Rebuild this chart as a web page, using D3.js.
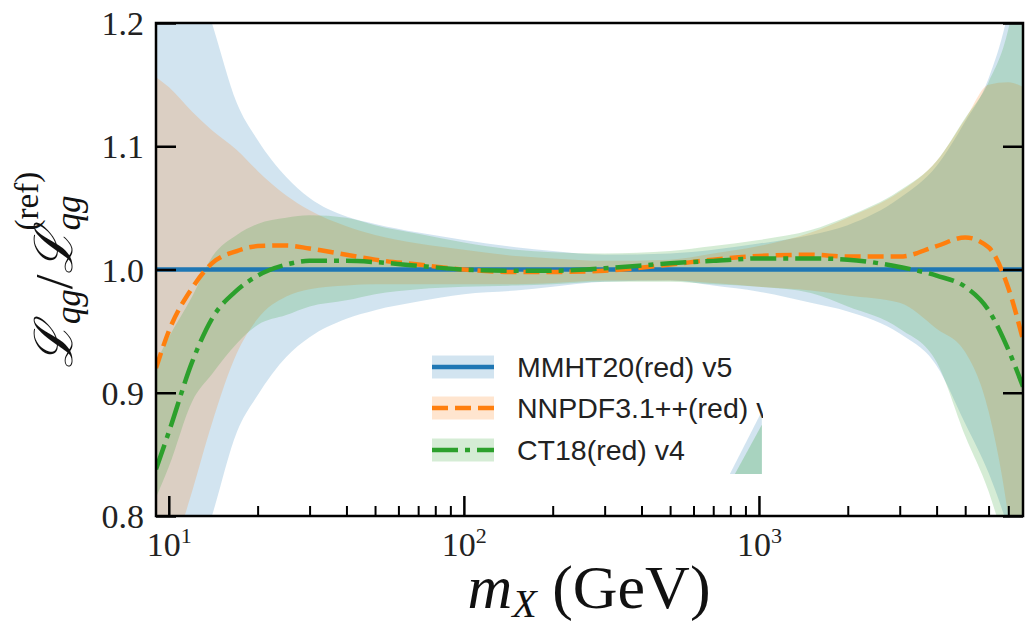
<!DOCTYPE html>
<html>
<head>
<meta charset="utf-8">
<script src="https://cdn.jsdelivr.net/npm/d3@7"></script>
<style>
  body { margin: 0; background: #fff; }
  svg { display: block; }
</style>
</head>
<body>
<div id="chart"></div>
<script>
// m_X grid (GeV) and the three luminosity ratios
const mx = [9.05, 10, 12, 14, 17, 20, 25, 30, 40, 50, 70, 100, 150, 200, 300, 500, 700, 1000, 1500, 2000, 3000, 4000, 5000, 6000, 7000, 7850];

const mmhtCentral = [1, 1, 1, 1, 1, 1, 1, 1, 1, 1, 1, 1, 1, 1, 1, 1, 1, 1, 1, 1, 1, 1, 1, 1, 1, 1];
const mmhtLow  = [0.60, 0.68, 0.75, 0.80, 0.868, 0.898, 0.929, 0.945, 0.960, 0.967, 0.974, 0.980, 0.983, 0.986, 0.990, 0.991, 0.987, 0.982, 0.973, 0.966, 0.948, 0.922, 0.875, 0.835, 0.79, 0.75];
const mmhtHigh = [1.40, 1.33, 1.25, 1.20, 1.135, 1.105, 1.075, 1.058, 1.043, 1.037, 1.030, 1.024, 1.018, 1.015, 1.012, 1.013, 1.016, 1.021, 1.028, 1.036, 1.058, 1.084, 1.12, 1.155, 1.21, 1.28];

const nnpdfCentral = [0.920, 0.950, 0.985, 1.005, 1.015, 1.019, 1.0195, 1.017, 1.012, 1.008, 1.004, 1.000, 0.998, 0.998, 0.999, 1.004, 1.008, 1.011, 1.012, 1.0105, 1.0105, 1.019, 1.026, 1.018, 0.985, 0.943];
const nnpdfLow  = [0.73, 0.76, 0.82, 0.875, 0.932, 0.96, 0.978, 0.984, 0.987, 0.988, 0.988, 0.988, 0.988, 0.989, 0.991, 0.991, 0.989, 0.986, 0.983, 0.979, 0.973, 0.952, 0.933, 0.885, 0.80, 0.70];
const nnpdfHigh = [1.156, 1.148, 1.128, 1.113, 1.097, 1.080, 1.060, 1.048, 1.035, 1.028, 1.021, 1.016, 1.011, 1.009, 1.007, 1.008, 1.013, 1.019, 1.030, 1.042, 1.063, 1.088, 1.122, 1.150, 1.152, 1.148];

const ct18Central = [0.838, 0.868, 0.925, 0.960, 0.983, 0.995, 1.004, 1.007, 1.007, 1.006, 1.003, 1.000, 0.999, 0.999, 1.001, 1.005, 1.007, 1.009, 1.009, 1.008, 1.002, 0.995, 0.986, 0.967, 0.935, 0.905];
const ct18Low  = [0.815, 0.84, 0.893, 0.915, 0.94, 0.955, 0.963, 0.970, 0.975, 0.980, 0.984, 0.986, 0.987, 0.988, 0.990, 0.990, 0.988, 0.986, 0.981, 0.970, 0.952, 0.925, 0.865, 0.82, 0.765, 0.71];
const ct18High = [0.925, 0.945, 0.978, 1.010, 1.028, 1.037, 1.042, 1.044, 1.042, 1.036, 1.029, 1.022, 1.016, 1.014, 1.013, 1.015, 1.019, 1.024, 1.032, 1.043, 1.064, 1.088, 1.123, 1.152, 1.195, 1.26];

const setNames = ["MMHT20(red) v5", "NNPDF3.1++(red) v4", "CT18(red) v4"];

// axis ticks
const yTicks = [0.8, 0.9, 1.0, 1.1, 1.2];
const xMajor = [10, 100, 1000];
const xMajorExp = ["1", "2", "3"];
const xMinor = [20, 30, 40, 50, 60, 70, 80, 90, 200, 300, 400, 500, 600, 700, 800, 900, 2000, 3000, 4000, 5000, 6000, 7000];

// stray band fragment that overlaps the legend in the source image (data coords)
const strayBlue = [[797, 0.834], [1023, 0.834], [1023, 0.885]];
const strayGreen = [[829, 0.834], [1023, 0.834], [1023, 0.874]];

const W = 1026, H = 626;
const margin = {top: 23, right: 3, bottom: 110, left: 156};
const width = W - margin.left - margin.right;
const height = H - margin.top - margin.bottom;

const serif = "'Liberation Serif', 'DejaVu Serif', serif";
const sans = "'Liberation Sans', Arial, sans-serif";
const colors = ["#1f77b4", "#ff7f0e", "#2ca02c"];
const dashes = [null, "16,7", "26,7,5,7"];
const lw = 4.5;

const svg = d3.select("#chart").append("svg")
    .attr("width", W)
    .attr("height", H);

const g = svg.append("g")
    .attr("transform", `translate(${margin.left}, ${margin.top})`);

const x = d3.scaleLog().domain([9.05, 7850]).range([0, width]);
const y = d3.scaleLinear().domain([0.8, 1.2]).range([height, 0]);

g.append("clipPath").attr("id", "plotclip")
  .append("rect").attr("width", width).attr("height", height);

const plot = g.append("g").attr("clip-path", "url(#plotclip)");

const sets = [
  {c: mmhtCentral, lo: mmhtLow, hi: mmhtHigh},
  {c: nnpdfCentral, lo: nnpdfLow, hi: nnpdfHigh},
  {c: ct18Central, lo: ct18Low, hi: ct18High}
];

const area = d3.area()
    .x(d => x(d.m))
    .y0(d => y(d.lo))
    .y1(d => y(d.hi))
    .curve(d3.curveMonotoneX);

const line = d3.line()
    .x(d => x(d.m))
    .y(d => y(d.v))
    .curve(d3.curveMonotoneX);

// bands first
sets.forEach((s, i) => {
  const pts = mx.map((m, k) => ({m: m, lo: s.lo[k], hi: s.hi[k]}));
  plot.append("path")
    .datum(pts)
    .attr("fill", colors[i])
    .attr("fill-opacity", 0.2)
    .attr("d", area);
});

// central lines on top
sets.forEach((s, i) => {
  const pts = mx.map((m, k) => ({m: m, v: s.c[k]}));
  plot.append("path")
    .datum(pts)
    .attr("fill", "none")
    .attr("stroke", colors[i])
    .attr("stroke-width", lw)
    .attr("stroke-dasharray", dashes[i])
    .attr("d", line);
});

// axes, ticks pointing inwards
const yAxis = g.append("g")
    .call(d3.axisLeft(y).tickValues(yTicks).tickSize(-20).tickPadding(12).tickFormat(d3.format(".1f")));
yAxis.select(".domain").remove();
yAxis.selectAll("line").attr("stroke-width", 2.5);
yAxis.selectAll("text")
    .attr("font-family", serif)
    .attr("font-size", 34)
    .attr("fill", "#222")
    .attr("dy", "0.34em");

const yAxisR = g.append("g")
    .attr("transform", `translate(${width}, 0)`)
    .call(d3.axisRight(y).tickValues(yTicks).tickSize(-20).tickFormat(""));
yAxisR.select(".domain").remove();
yAxisR.selectAll("line").attr("stroke-width", 2.5);

const xMinAxis = g.append("g")
    .attr("transform", `translate(0, ${height})`)
    .call(d3.axisBottom(x).tickValues(xMinor).tickSize(-10).tickFormat(""));
xMinAxis.select(".domain").remove();
xMinAxis.selectAll("line").attr("stroke-width", 2);

const xAxis = g.append("g")
    .attr("transform", `translate(0, ${height})`)
    .call(d3.axisBottom(x).tickValues(xMajor).tickSize(-20).tickPadding(16).tickFormat(""));
xAxis.select(".domain").remove();
xAxis.selectAll("line").attr("stroke-width", 2.5);
xAxis.selectAll(".tick text")
    .attr("font-family", serif)
    .attr("font-size", 34)
    .attr("fill", "#222")
    .each(function(d, i) {
      const t = d3.select(this);
      t.append("tspan").text("10");
      t.append("tspan").attr("font-size", 22).attr("dy", "-0.6em").text(xMajorExp[i]);
    });

// frame
g.append("rect")
    .attr("width", width)
    .attr("height", height)
    .attr("fill", "none")
    .attr("stroke", "#000")
    .attr("stroke-width", 2.5);

// legend
const leg = g.append("g").attr("transform", `translate(${432 - margin.left}, 0)`);
g.append("clipPath").attr("id", "legclip")
  .append("rect").attr("x", 0).attr("y", 0).attr("width", 763 - 432).attr("height", height);
const legIn = leg.append("g").attr("clip-path", "url(#legclip)");
const rowY = [367, 408, 450].map(v => v - margin.top);
setNames.forEach((name, i) => {
  const r = legIn.append("g").attr("transform", `translate(0, ${rowY[i]})`);
  r.append("rect")
    .attr("x", 0).attr("y", -11.5)
    .attr("width", 62).attr("height", 23)
    .attr("fill", colors[i]).attr("fill-opacity", 0.2);
  r.append("line")
    .attr("x1", 0).attr("x2", 62)
    .attr("stroke", colors[i])
    .attr("stroke-width", lw)
    .attr("stroke-dasharray", dashes[i]);
  r.append("text")
    .attr("x", 85)
    .attr("dy", "0.35em")
    .attr("font-family", sans)
    .attr("font-size", 28.5)
    .attr("fill", "#222")
    .text(name);
});

// stray fragment over the legend
[[strayBlue, colors[0]], [strayGreen, colors[2]]].forEach(([pts, c]) => {
  g.append("path")
    .attr("d", d3.line().x(d => x(d[0])).y(d => y(d[1]))(pts) + "Z")
    .attr("fill", c)
    .attr("fill-opacity", c === colors[0] ? 0.2 : 0.25);
});

// x label
const xl = svg.append("text")
    .attr("font-family", serif)
    .attr("font-size", 62)
    .attr("fill", "#111");
xl.append("tspan").attr("font-style", "italic").text("m");
xl.append("tspan").attr("font-style", "italic").attr("font-size", 40).attr("dy", 9).text("X");
xl.append("tspan").attr("dy", -9).text(" (GeV)");
let bb = xl.node().getBBox();
xl.attr("transform", `translate(${589 - bb.x - bb.width / 2}, 608)`);

// y label
const ylG = svg.append("g").attr("transform", "translate(72, 270) rotate(-90)");
const yl = ylG.append("text")
    .attr("font-family", serif)
    .attr("font-size", 53)
    .attr("fill", "#111");
yl.append("tspan").attr("font-family", "'DejaVu Serif', serif").attr("font-style", "italic").text("\u2112");
yl.append("tspan").attr("font-style", "italic").attr("font-size", 35).attr("dy", 8).text("qg");
yl.append("tspan").attr("dy", -8).text("/");
yl.append("tspan").attr("font-family", "'DejaVu Serif', serif").attr("font-style", "italic").text("\u2112");
const sub2 = yl.append("tspan").attr("font-style", "italic").attr("font-size", 35).attr("dy", 8).text("qg");
const subLen = sub2.node().getComputedTextLength();
yl.append("tspan").attr("font-size", 33).attr("dx", -subLen).attr("dy", -42).text("(ref)");
bb = yl.node().getBBox();
yl.attr("transform", `translate(${-bb.x - bb.width / 2}, 0)`);
</script>
</body>
</html>
